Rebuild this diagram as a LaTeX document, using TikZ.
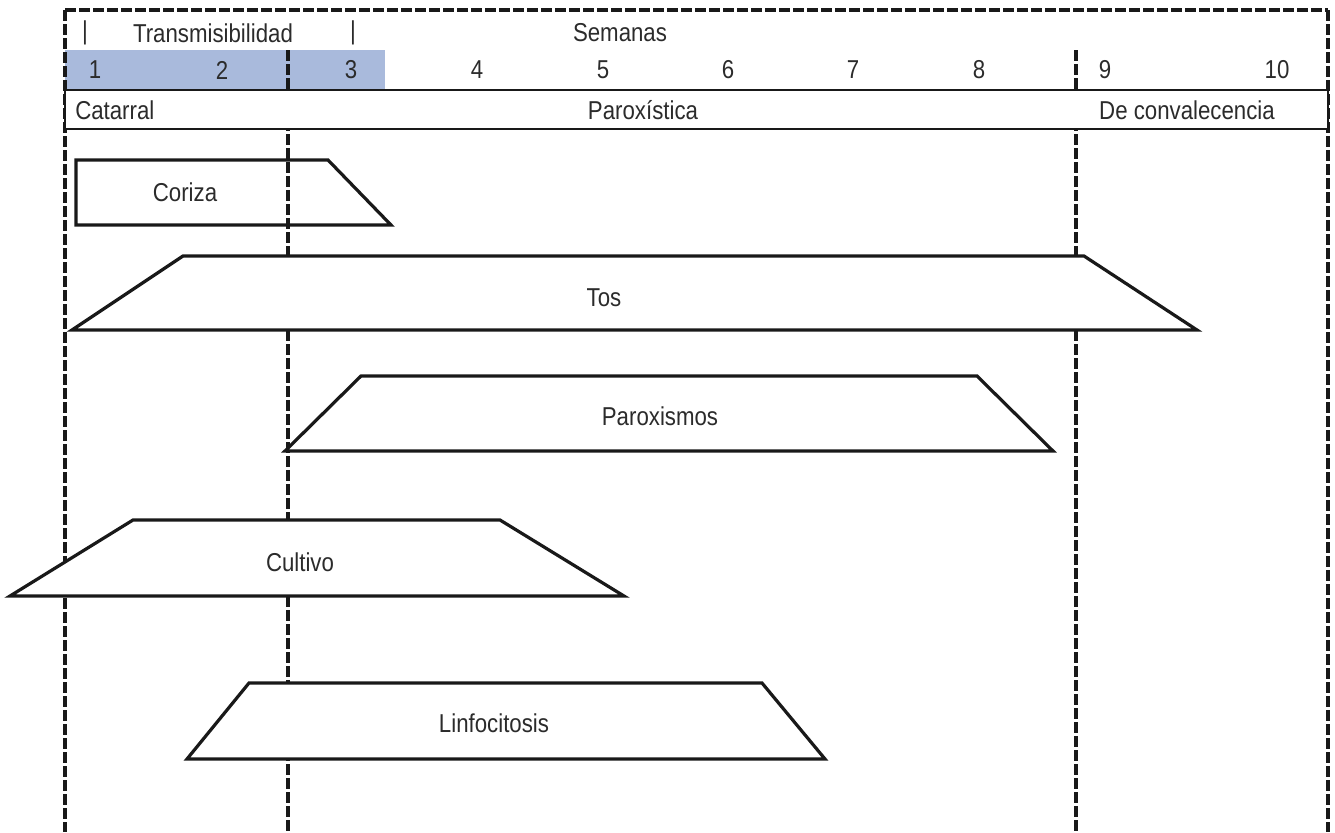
\documentclass[tikz,border=0pt]{standalone}
\usepackage{fontspec}
\setmainfont{Liberation Sans}[FakeStretch=0.86]
\definecolor{band}{HTML}{A9BADC}
\definecolor{ink}{HTML}{2B2B2B}
\begin{document}
\begin{tikzpicture}[x=0.75pt,y=-0.75pt,
  dashline/.style={line width=3pt, dash pattern=on 8pt off 2.5pt, black!90},
  trap/.style={draw=black!90, line width=2.4pt, line join=miter, fill=white},
  opentrap/.style={draw=black!90, line width=2.4pt, line join=miter},
  lbl/.style={font=\fontsize{19.4}{22}\selectfont, text=ink, inner sep=0pt}]
\useasboundingbox (0,0) rectangle (1335,832);
% blue band
\fill[band] (65,50) rectangle (385,89);
% dashed frame and separators
\draw[dashline] (65,10) -- (1328,10);
\draw[dashline] (65,10) -- (65,832);
\draw[dashline] (1328,10) -- (1328,832);
\draw[dashline] (288,50) -- (288,832);
\draw[dashline] (1076,50) -- (1076,832);
% phase row
\draw[fill=white, draw=black!90, line width=2pt] (65,90) rectangle (1328,129);
% header texts
\node[lbl] (bar1) at (85,33) {|};
\node[lbl] (trans) at (213,33) {Transmisibilidad};
\node[lbl] (bar2) at (353,33) {|};
\node[lbl] (sem) at (620,33) {Semanas};
\node[lbl] (w1) at (95,70) {1};
\node[lbl] (w2) at (222,70) {2};
\node[lbl] (w3) at (351,70) {3};
\node[lbl] (w4) at (477,70) {4};
\node[lbl] (w5) at (603,70) {5};
\node[lbl] (w6) at (728,70) {6};
\node[lbl] (w7) at (853,70) {7};
\node[lbl] (w8) at (979,70) {8};
\node[lbl] (w9) at (1105,70) {9};
\node[lbl] (w10) at (1277,70) {10};
\node[lbl, anchor=west] (cat) at (75,110) {Catarral};
\node[lbl] (par) at (643,110) {Paroxística};
\node[lbl] (conv) at (1187,110) {De convalecencia};
% trapezoids
\draw[opentrap] (76,160) -- (328,160) -- (391,225) -- (76,225) -- cycle;
\node[lbl] (coriza) at (185,192) {Coriza};
\draw[trap] (72,330) -- (183,256) -- (1084,256) -- (1197,330) -- cycle;
\node[lbl] (tos) at (604,298) {Tos};
\draw[trap] (285,451) -- (361,376) -- (977,376) -- (1053,451) -- cycle;
\node[lbl] (parox) at (660,416) {Paroxismos};
\draw[trap] (10,596) -- (133,520) -- (500,520) -- (624,596) -- cycle;
\node[lbl] (cult) at (300,562) {Cultivo};
\draw[trap] (187,759) -- (249,683) -- (762,683) -- (825,759) -- cycle;
\node[lbl] (linf) at (494,723) {Linfocitosis};
\end{tikzpicture}
\end{document}
